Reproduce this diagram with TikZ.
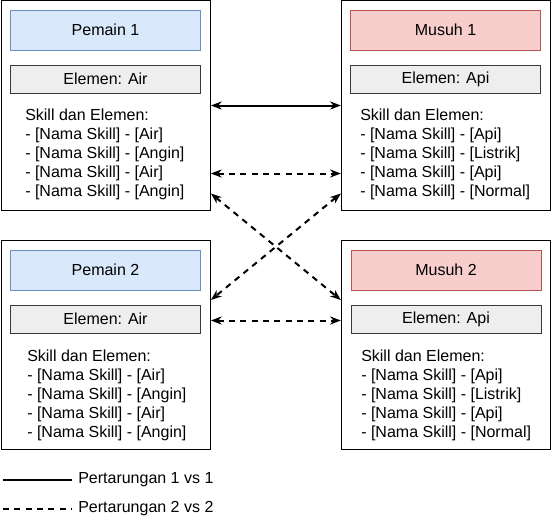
\documentclass[tikz,border=0pt]{standalone}
\usepackage{fontspec}
\setmainfont{Liberation Sans}
\usetikzlibrary{arrows.meta,calc}

\definecolor{blueFill}{HTML}{DAE8FC}
\definecolor{blueLine}{HTML}{6C8EBF}
\definecolor{redFill}{HTML}{F8CECC}
\definecolor{redLine}{HTML}{B85450}
\definecolor{greyFill}{HTML}{EEEEEE}
\definecolor{greyLine}{HTML}{36393D}

\begin{document}
\begin{tikzpicture}[x=0.75pt,y=-0.75pt,
    font=\fontsize{12pt}{14.1pt}\selectfont,
    fighter/.style ={draw, line width=0.75pt, minimum width=157pt, minimum height=157pt},
    player/.style ={draw=blueLine, fill=blueFill, line width=0.75pt, minimum width=142.5pt, minimum height=30pt},
    enemy/.style ={draw=redLine, fill=redFill, line width=0.75pt, minimum width=142.5pt, minimum height=30pt},
    element/.style ={draw=greyLine, fill=greyFill, line width=0.75pt, minimum width=142.5pt, minimum height=21pt},
    skills/.style ={anchor=north west, align=left, inner sep=0pt},
    duel/.style ={line width=1.5pt, {Stealth[length=8pt,width=6pt,inset=2.5pt]}-{Stealth[length=8pt,width=6pt,inset=2.5pt]}},
    team/.style ={duel, dash pattern=on 4.5pt off 4pt}]
   \useasboundingbox (0,0) rectangle (553,521);

   % pemain dan musuh
   \node[fighter] (p1) at (105.75,105.5) {};
   \node[fighter] (m1) at (446,105.5) {};
   \node[fighter] (p2) at (105.75,345) {};
   \node[fighter] (m2) at (446,345) {};

   \node[player] (p1t) at (105.5,30) {Pemain 1};
   \node[enemy] (m1t) at (445.5,30) {Musuh 1};
   \node[player] (p2t) at (105.5,270) {Pemain 2};
   \node[enemy] (m2t) at (446,270) {Musuh 2};

   \node[element] (p1e) at (105.5,79) {Elemen: Air};
   \node[element] (m1e) at (445.5,79) {Elemen: Api};
   \node[element] (p2e) at (105.5,319) {Elemen: Air};
   \node[element] (m2e) at (446,319) {Elemen: Api};

   \node[skills] (p1s) at (25,109) {Skill dan Elemen:\\- [Nama Skill] - [Air]\\- [Nama Skill] - [Angin]\\- [Nama Skill] - [Air]\\- [Nama Skill] - [Angin]};
   \node[skills] (m1s) at (360,109) {Skill dan Elemen:\\- [Nama Skill] - [Api]\\- [Nama Skill] - [Listrik]\\- [Nama Skill] - [Api]\\- [Nama Skill] - [Normal]};
   \node[skills] (p2s) at (27,350) {Skill dan Elemen:\\- [Nama Skill] - [Air]\\- [Nama Skill] - [Angin]\\- [Nama Skill] - [Air]\\- [Nama Skill] - [Angin]};
   \node[skills] (m2s) at (361,350) {Skill dan Elemen:\\- [Nama Skill] - [Api]\\- [Nama Skill] - [Listrik]\\- [Nama Skill] - [Api]\\- [Nama Skill] - [Normal]};

   % pertarungan
   \draw[duel] (p1.east) to (m1.west);
   \draw[team] ($(p1.east)+(0,68)$) to ($(m1.west)+(0,68)$);
   \draw[team] ($(p1.east)+(0,88)$) to ($(m2.west)+(0,-45)$);
   \draw[team] ($(m1.west)+(0,88)$) to ($(p2.east)+(0,-45)$);
   \draw[team] ($(p2.east)+(0,-24.5)$) to ($(m2.west)+(0,-24.5)$);

   % keterangan
   \coordinate (l1) at (3,480);
   \coordinate (l2) at (3,509);
   \node[anchor=west, inner sep=4.5pt] (k1) at (72,480) {Pertarungan 1 vs 1};
   \node[anchor=west, inner sep=4.5pt] (k2) at (72,509) {Pertarungan 2 vs 2};
   \draw[line width=1.5pt] (l1) to (k1.west);
   \draw[line width=1.5pt, dash pattern=on 4.5pt off 4pt] (l2) to (k2.west);
 \end{tikzpicture}
\end{document}
